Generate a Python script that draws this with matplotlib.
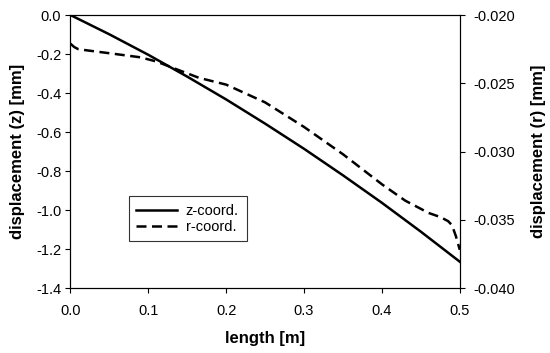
import matplotlib
matplotlib.use("Agg")
import matplotlib.pyplot as plt
from matplotlib.ticker import FormatStrFormatter, MultipleLocator

plt.rcParams['font.family'] = ['Liberation Sans', 'DejaVu Sans']
plt.rcParams['axes.unicode_minus'] = False

# ---- data ----
x_z = [0.0, 0.05, 0.1, 0.15, 0.2, 0.25, 0.3, 0.35, 0.4, 0.45, 0.5]
z_disp = [0.0, -0.099, -0.204, -0.316, -0.433, -0.557, -0.686, -0.822, -0.963, -1.111, -1.265]

x_r = [0.0, 0.005, 0.01, 0.02, 0.05, 0.09, 0.11, 0.165, 0.2, 0.25, 0.3, 0.35,
       0.4, 0.43, 0.46, 0.475, 0.485, 0.49, 0.495, 0.5]
r_disp = [-0.0221, -0.02235, -0.0225, -0.02258, -0.0228, -0.0231, -0.0234, -0.0246,
          -0.0251, -0.0264, -0.0282, -0.0302, -0.0324, -0.0336, -0.0345, -0.0348,
          -0.0351, -0.0354, -0.0362, -0.0372]

fig = plt.figure(figsize=(5.5, 3.53), dpi=100)
ax1 = fig.add_axes([0.128, 0.184, 0.708, 0.7735])
ax2 = ax1.twinx()

l1, = ax1.plot(x_z, z_disp, color='k', lw=1.8, label='z-coord.')
l2, = ax2.plot(x_r, r_disp, color='k', lw=1.8, dashes=(4, 2.2), label='r-coord.')

ax1.set_xlim(0, 0.5)
ax1.set_ylim(-1.4, 0.0)
ax2.set_ylim(-0.040, -0.020)
ax1.xaxis.set_major_locator(MultipleLocator(0.1))
ax1.yaxis.set_major_locator(MultipleLocator(0.2))
ax2.yaxis.set_major_locator(MultipleLocator(0.005))
ax1.xaxis.set_major_formatter(FormatStrFormatter('%.1f'))
ax1.yaxis.set_major_formatter(FormatStrFormatter('%.1f'))
ax2.yaxis.set_major_formatter(FormatStrFormatter('%.3f'))

for ax in (ax1, ax2):
    for s in ax.spines.values():
        s.set_linewidth(0.8)
    ax.tick_params(direction='out', length=3.5, width=0.8, labelsize=10.5, pad=3)
ax1.tick_params(axis='x', pad=8)
ax2.tick_params(axis='y', pad=6)

ax1.set_xlabel('length [m]', fontsize=12, fontweight='bold', labelpad=9)
ax1.set_ylabel('displacement (z) [mm]', fontsize=12, fontweight='bold', labelpad=8)
ax2.set_ylabel('displacement (r) [mm]', fontsize=12, fontweight='bold', labelpad=12)

leg = ax1.legend(handles=[l1, l2], loc='lower left', bbox_to_anchor=(0.15, 0.172, 0.303, 0.18),
                 mode='expand', fontsize=10.5, frameon=True, fancybox=False,
                 handlelength=2.8, handletextpad=0.6, borderpad=0.5, labelspacing=0.15,
                 borderaxespad=0)
leg.get_frame().set_edgecolor('k')
leg.get_frame().set_linewidth(0.8)

fig.savefig('out.png', dpi=100)
